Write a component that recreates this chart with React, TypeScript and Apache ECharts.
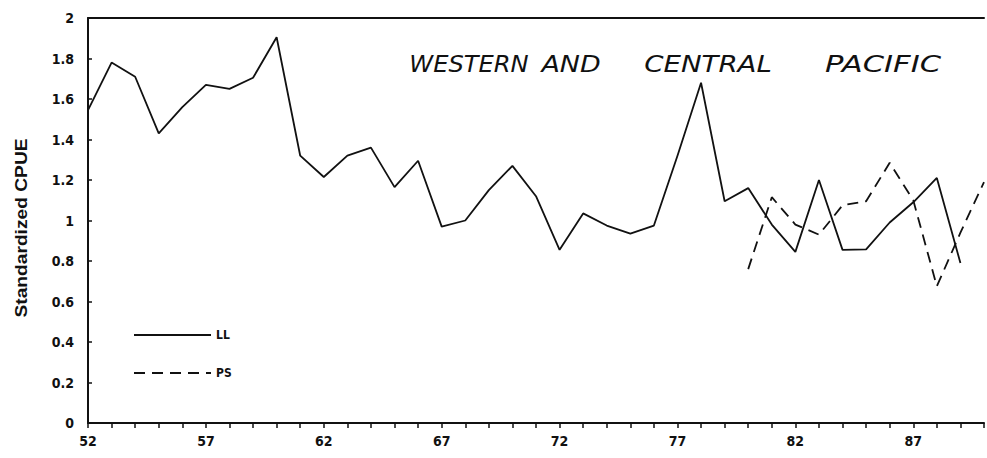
import React, { useEffect, useRef } from "react";
import * as echarts from "echarts";

const years = [52, 53, 54, 55, 56, 57, 58, 59, 60, 61, 62, 63, 64, 65, 66, 67, 68, 69, 70, 71, 72, 73, 74, 75, 76, 77, 78, 79, 80, 81, 82, 83, 84, 85, 86, 87, 88, 89, 90];
const llValues = [1.545, 1.78, 1.71, 1.43, 1.56, 1.67, 1.65, 1.705, 1.905, 1.32, 1.215, 1.32, 1.36, 1.165, 1.295, 0.97, 1.0, 1.15, 1.27, 1.12, 0.855, 1.035, 0.975, 0.935, 0.975, 1.32, 1.68, 1.095, 1.16, 0.98, 0.845, 1.2, 0.855, 0.857, 0.99, 1.09, 1.21, 0.79, null];
const psYears = [80, 81, 82, 83, 84, 85, 86, 87, 88, 89, 90];
const psValues = [0.76, 1.115, 0.98, 0.93, 1.075, 1.095, 1.285, 1.1, 0.675, 0.94, 1.19];
const xLabelYears = [52, 57, 62, 67, 72, 77, 82, 87];
const titleWords = ["WESTERN", "AND", "CENTRAL", "PACIFIC"];
const yAxisTitle = "Standardized CPUE";

export default function App() {
  const ref = useRef<HTMLDivElement>(null);
  useEffect(() => {
    if (!ref.current) return;
    const chart = echarts.init(ref.current, null, { renderer: "svg" });
    const llData = years.map((y, i) => [y, llValues[i]]).filter((p) => p[1] !== null);
    const psData = psYears.map((y, i) => [y, psValues[i]]);
    const wordPos = [
      { cx: 469, sx: 1.05 },
      { cx: 571, sx: 1.17 },
      { cx: 708, sx: 1.2 },
      { cx: 883, sx: 1.33 },
    ];
    chart.setOption({
      animation: false,
      backgroundColor: "#ffffff",
      grid: { left: 88, top: 18, bottom: 35, right: -3 },
      legend: {
        orient: "vertical",
        left: 128,
        top: 324,
        itemWidth: 77,
        itemHeight: 14,
        itemGap: 26,
        itemStyle: { opacity: 0 },
        textStyle: { fontFamily: "DejaVu Sans Condensed", fontWeight: "bold", fontSize: 12, color: "#111" },
        data: ["LL", "PS"],
      },
      xAxis: [
        {
          type: "value",
          min: 52,
          max: 90,
          interval: 1,
          axisLine: { show: true, lineStyle: { color: "#111", width: 2 } },
          axisTick: { show: true, inside: false, length: 5, lineStyle: { color: "#111", width: 1.5 } },
          splitLine: { show: false },
          axisLabel: {
            margin: 11,
            fontFamily: "DejaVu Sans Condensed",
            fontWeight: "bold",
            fontSize: 14,
            color: "#111",
            formatter: (v: number) => (xLabelYears.indexOf(Math.round(v)) >= 0 && Math.abs(v - Math.round(v)) < 1e-6 ? String(Math.round(v)) : ""),
          },
        },
        {
          type: "value",
          position: "top",
          min: 52,
          max: 90,
          axisLine: { show: true, lineStyle: { color: "#111", width: 2 } },
          axisTick: { show: false },
          axisLabel: { show: false },
          splitLine: { show: false },
        },
      ],
      yAxis: {
        type: "value",
        min: 0,
        max: 2,
        interval: 0.2,
        axisLine: { show: true, lineStyle: { color: "#111", width: 2 } },
        axisTick: { show: true, inside: true, length: 4, lineStyle: { color: "#111", width: 1.5 } },
        splitLine: { show: false },
        axisLabel: {
          margin: 14,
          fontFamily: "DejaVu Sans Condensed",
          fontWeight: "bold",
          fontSize: 14,
          color: "#111",
          formatter: (v: number) => String(Math.round(v * 10) / 10),
        },
      },
      graphic: [
        {
          type: "text",
          x: 22,
          y: 228,
          rotation: Math.PI / 2,
          scaleX: 1.2,
          style: {
            text: yAxisTitle,
            fontFamily: "Liberation Sans",
            fontWeight: "bold",
            fontSize: 16,
            fill: "#111",
            align: "center",
            verticalAlign: "middle",
          },
        },
        ...titleWords.map((w, i) => ({
          type: "text",
          x: wordPos[i].cx,
          y: 64,
          scaleX: wordPos[i].sx,
          style: {
            text: w,
            fontFamily: "DejaVu Sans",
            fontStyle: "italic",
            fontWeight: "normal",
            fontSize: 23,
            fill: "#111",
            align: "center",
            verticalAlign: "middle",
          },
        })),
      ],
      series: [
        {
          name: "LL",
          type: "line",
          data: llData,
          symbol: "none",
          clip: true,
          lineStyle: { color: "#111", width: 1.8, type: "solid" },
          itemStyle: { color: "#111" },
        },
        {
          name: "PS",
          type: "line",
          data: psData,
          symbol: "none",
          clip: true,
          lineStyle: { color: "#111", width: 1.8, type: [11, 7] },
          itemStyle: { color: "#111" },
        },
      ],
    });
    return () => chart.dispose();
  }, []);
  return <div ref={ref} style={{ position: "absolute", left: 0, top: 0, width: 987, height: 458 }} />;
}
